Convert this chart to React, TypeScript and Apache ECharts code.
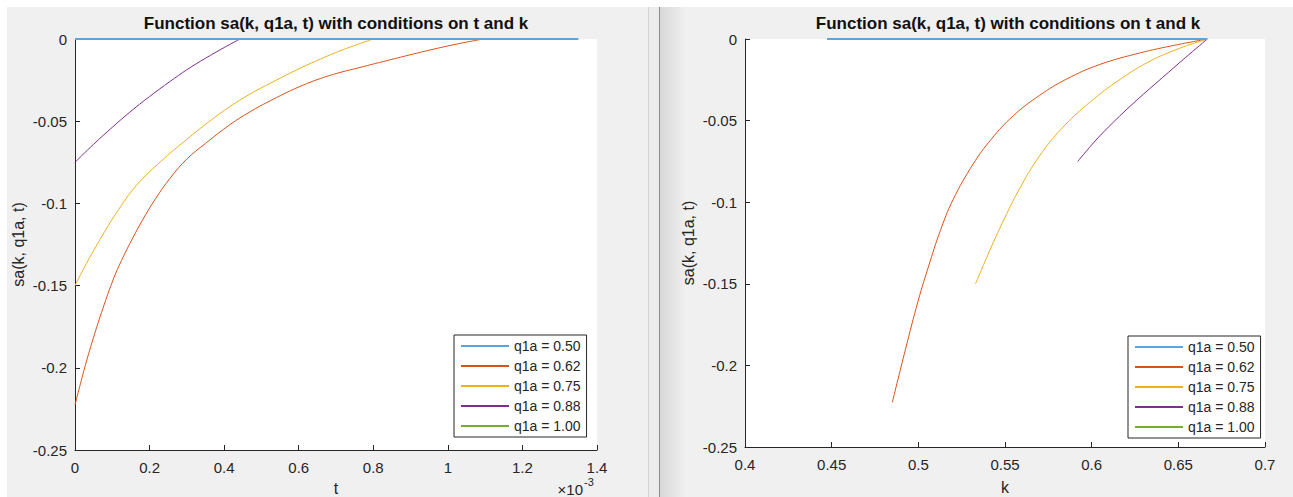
import React, { useEffect, useRef } from "react";
import * as echarts from "echarts";

// ---- data ----
const seriesNames = ["q1a = 0.50", "q1a = 0.62", "q1a = 0.75", "q1a = 0.88", "q1a = 1.00"];
const seriesColors = ["#5aa6dc", "#D95319", "#EDB120", "#7E2F8E", "#77AC30"];
const titleText = "Function sa(k, q1a, t) with conditions on t and k";
const yName = "sa(k, q1a, t)";

// Left panel: sa vs t (t in units of 1e-3)
const leftQ050: [number, number][] = [[0, 0], [1.35, 0]];
const leftQ062: [number, number][] = [
  [0, -0.2226], [0.025, -0.2008], [0.049, -0.182], [0.075, -0.1638], [0.103, -0.146],
  [0.125, -0.1346], [0.147, -0.1245], [0.18, -0.1106], [0.215, -0.0975], [0.255, -0.0847],
  [0.3, -0.073], [0.35, -0.0635], [0.416, -0.052], [0.47, -0.0442], [0.52, -0.038],
  [0.6, -0.0292], [0.68, -0.0224], [0.773, -0.0168], [0.86, -0.0118], [0.952, -0.0067],
  [1.03, -0.0028], [1.095, 0],
];
const leftQ075: [number, number][] = [
  [0, -0.15], [0.03, -0.1368], [0.067, -0.122], [0.11, -0.1061], [0.165, -0.089],
  [0.23, -0.0745], [0.3, -0.061], [0.36, -0.0502], [0.416, -0.041], [0.47, -0.0334],
  [0.523, -0.027], [0.59, -0.0193], [0.65, -0.013], [0.72, -0.0064], [0.8, 0],
];
const leftQ088: [number, number][] = [
  [0, -0.075], [0.05, -0.064], [0.1, -0.0537], [0.147, -0.0445], [0.2, -0.035],
  [0.255, -0.0258], [0.3, -0.0187], [0.35, -0.0117], [0.4, -0.0052], [0.442, 0],
];
const leftQ100: [number, number][] = [];

// Right panel: sa vs k
const rightQ050: [number, number][] = [[0.4473, 0], [0.6667, 0]];
const rightQ062: [number, number][] = [
  [0.485, -0.2226], [0.4925, -0.1905], [0.5, -0.16], [0.506, -0.139], [0.5125, -0.118],
  [0.52, -0.0985], [0.5317, -0.0765], [0.542, -0.0615], [0.5548, -0.047], [0.57, -0.0345],
  [0.5856, -0.0245], [0.605, -0.0155], [0.628, -0.0085], [0.648, -0.0038], [0.6667, 0],
];
const rightQ075: [number, number][] = [
  [0.533, -0.15], [0.54, -0.1325], [0.547, -0.116], [0.558, -0.0925], [0.57, -0.0715],
  [0.583, -0.0545], [0.597, -0.0405], [0.614, -0.0265], [0.632, -0.0145], [0.65, -0.006],
  [0.6667, 0],
];
const rightQ088: [number, number][] = [
  [0.592, -0.075], [0.602, -0.0625], [0.6125, -0.051], [0.626, -0.0375], [0.641, -0.0235],
  [0.654, -0.0115], [0.6667, 0],
];
const rightQ100: [number, number][] = [];

const leftSets = [leftQ050, leftQ062, leftQ075, leftQ088, leftQ100];
const rightSets = [rightQ050, rightQ062, rightQ075, rightQ088, rightQ100];

const FONT = "'Liberation Sans', Arial, Helvetica, sans-serif";
const AX = "#262626";

export default function App() {
  const ref = useRef<HTMLDivElement>(null);
  useEffect(() => {
    if (!ref.current) return;
    const chart = echarts.init(ref.current, undefined, { renderer: "svg" });

    const axisCommon = {
      axisLine: { show: true, onZero: false, lineStyle: { color: AX, width: 1 } },
      axisTick: { show: true, inside: true, length: 5, lineStyle: { color: AX } },
      splitLine: { show: false },
      axisLabel: { color: AX, fontSize: 15, fontFamily: FONT },
      nameTextStyle: { color: AX, fontSize: 16, fontFamily: FONT },
    };

    const mkSeries = (sets: [number, number][][], idx: number) =>
      sets.map((d, i) => ({
        type: "line",
        name: seriesNames[i],
        xAxisIndex: idx,
        yAxisIndex: idx,
        data: d,
        showSymbol: false,
        symbol: "none",
        smooth: 0.4,
        color: seriesColors[i],
        lineStyle: { color: seriesColors[i], width: i === 0 ? 2 : 1 },
        z: i === 0 ? 5 : 3,
      }));

    const legendCommon = {
      orient: "vertical",
      itemWidth: 48,
      itemHeight: 14,
      itemGap: 0,
      selectedMode: false,
      backgroundColor: "#fff",
      borderColor: AX,
      borderWidth: 1,
      borderRadius: 0,
      padding: [1, 6, 1, 6],
      itemStyle: { opacity: 0, color: "transparent", borderColor: "transparent", borderWidth: 0 },
      textStyle: { color: AX, fontSize: 14, fontFamily: FONT, lineHeight: 20 },
    };

    chart.setOption({
      animation: false,
      backgroundColor: "#ffffff",
      graphic: [
        { type: "rect", z: -100, silent: true, shape: { x: 7, y: 7, width: 641, height: 490 }, style: { fill: "#f0f0f0" } },
        { type: "rect", z: -100, silent: true, shape: { x: 648, y: 7, width: 1, height: 490 }, style: { fill: "#d4d4d4" } },
        { type: "rect", z: -100, silent: true, shape: { x: 649, y: 7, width: 10, height: 490 }, style: { fill: "#ececec" } },
        { type: "rect", z: -100, silent: true, shape: { x: 659, y: 7, width: 1, height: 490 }, style: { fill: "#8c8c8c" } },
        { type: "rect", z: -100, silent: true, shape: { x: 660, y: 7, width: 633, height: 490 }, style: { fill: "#f0f0f0" } },
        {
          type: "rect", z: -99, silent: true, shape: { x: 660, y: 7, width: 26, height: 490 },
          style: {
            fill: {
              type: "linear", x: 0, y: 0, x2: 1, y2: 0,
              colorStops: [{ offset: 0, color: "#d8d8d8" }, { offset: 1, color: "#f0f0f0" }],
            },
          },
        },
        { type: "text", z: 10, x: 583, y: 489, style: { text: "×10", fill: AX, fontSize: 15, fontFamily: FONT, textAlign: "right", textVerticalAlign: "middle" } },
        { type: "text", z: 10, x: 584, y: 482, style: { text: "-3", fill: AX, fontSize: 11, fontFamily: FONT, textAlign: "left", textVerticalAlign: "middle" } },
      ],
      title: [
        { text: titleText, left: 336, top: 15, textAlign: "center", padding: 0, textStyle: { fontSize: 17, fontWeight: "bold", color: "#111", fontFamily: FONT } },
        { text: titleText, left: 1008, top: 15, textAlign: "center", padding: 0, textStyle: { fontSize: 17, fontWeight: "bold", color: "#111", fontFamily: FONT } },
      ],
      legend: [
        { ...legendCommon, left: 454, top: 335 },
        { ...legendCommon, left: 1128, top: 336 },
      ],
      grid: [
        { left: 75, top: 39, width: 522, height: 411, show: true, backgroundColor: "#fff", borderWidth: 0, containLabel: false, outerBoundsMode: "none" },
        { left: 745, top: 39, width: 520, height: 408, show: true, backgroundColor: "#fff", borderWidth: 0, containLabel: false, outerBoundsMode: "none" },
      ],
      xAxis: [
        { ...axisCommon, type: "value", gridIndex: 0, min: 0, max: 1.4, interval: 0.2, name: "t", nameLocation: "middle", nameGap: 30, axisLabel: { ...axisCommon.axisLabel, margin: 10 } },
        { ...axisCommon, type: "value", gridIndex: 1, min: 0.4, max: 0.7, interval: 0.05, name: "k", nameLocation: "middle", nameGap: 32, axisLabel: { ...axisCommon.axisLabel, margin: 10 } },
      ],
      yAxis: [
        { ...axisCommon, type: "value", gridIndex: 0, min: -0.25, max: 0, interval: 0.05, name: yName, nameLocation: "middle", nameRotate: 90, nameGap: 49, axisLabel: { ...axisCommon.axisLabel, margin: 8, verticalAlign: "middle" } },
        { ...axisCommon, type: "value", gridIndex: 1, min: -0.25, max: 0, interval: 0.05, name: yName, nameLocation: "middle", nameRotate: 90, nameGap: 49, axisLabel: { ...axisCommon.axisLabel, margin: 8, verticalAlign: "middle" } },
      ],
      series: [...mkSeries(leftSets, 0), ...mkSeries(rightSets, 1)],
    });

    return () => chart.dispose();
  }, []);

  return (
    <div
      ref={ref}
      style={{ position: "fixed", left: 0, top: 0, width: 1293, height: 497 }}
    />
  );
}
